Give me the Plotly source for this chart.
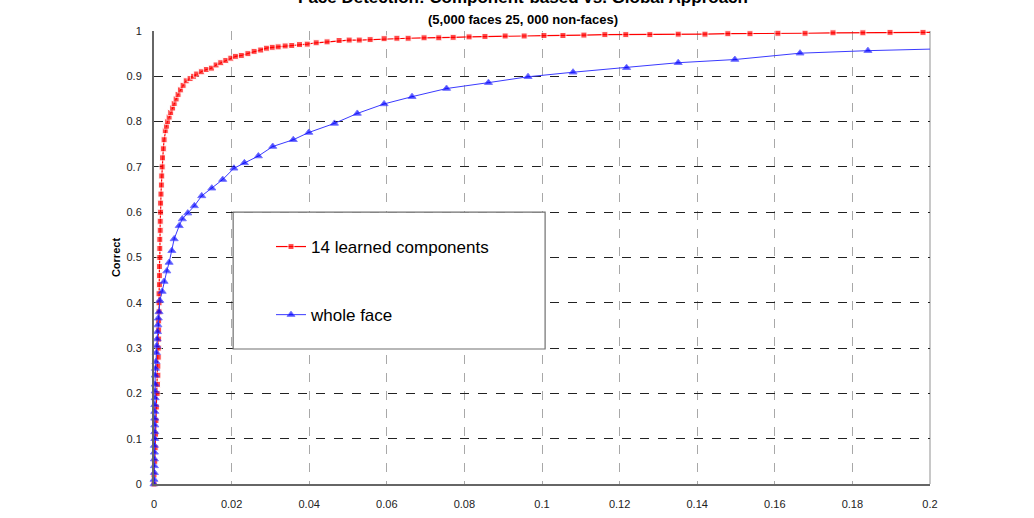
import plotly.graph_objects as go

red_x = [0, 0, 0.0002, 0.0003, 0.0004, 0.0005, 0.0006, 0.0008, 0.0009, 0.001, 0.001, 0.0011, 0.0011,
         0.0012, 0.0012, 0.0012, 0.0013, 0.0013, 0.0013, 0.0014, 0.0014, 0.0014, 0.0015, 0.0015, 0.0015,
         0.0016, 0.0016, 0.0017, 0.0017, 0.0018, 0.0019, 0.002, 0.0021, 0.0022, 0.0024, 0.0026, 0.0029,
         0.0032, 0.0035, 0.0039, 0.0043, 0.0048, 0.0052, 0.0057, 0.0062, 0.0068, 0.0075, 0.0083, 0.0093,
         0.0102, 0.011, 0.0122, 0.0135, 0.0148, 0.016, 0.0172, 0.0185, 0.0198, 0.021, 0.0225, 0.0242,
         0.0258, 0.0275, 0.029, 0.0305, 0.032, 0.0338, 0.0355, 0.0375, 0.0395, 0.0418, 0.0446, 0.0477,
         0.0503, 0.0529, 0.0557, 0.0593, 0.0626, 0.0655, 0.0696, 0.0734, 0.0771, 0.0812, 0.0853, 0.0905,
         0.0954, 0.1005, 0.1054, 0.1108, 0.1162, 0.1216, 0.1278, 0.1351, 0.142, 0.1479, 0.1536, 0.1608,
         0.1678, 0.175, 0.1827, 0.1897, 0.1982, 0.2]
red_y = [0, 0.02, 0.05, 0.08, 0.11, 0.14, 0.17, 0.2, 0.22, 0.24, 0.26, 0.28, 0.3,
         0.32, 0.34, 0.36, 0.38, 0.4, 0.42, 0.44, 0.46, 0.48, 0.5, 0.52, 0.54,
         0.56, 0.58, 0.6, 0.62, 0.64, 0.66, 0.68, 0.7, 0.72, 0.74, 0.76, 0.78,
         0.79, 0.8, 0.81, 0.82, 0.83, 0.84, 0.85, 0.86, 0.87, 0.88, 0.89, 0.895,
         0.9, 0.905, 0.91, 0.915, 0.918, 0.925, 0.93, 0.935, 0.94, 0.944, 0.946, 0.95,
         0.955, 0.958, 0.962, 0.964, 0.965, 0.967, 0.968, 0.97, 0.971, 0.974, 0.976, 0.979,
         0.98, 0.98, 0.981, 0.983, 0.984, 0.984, 0.985, 0.985, 0.986, 0.987, 0.988, 0.989,
         0.989, 0.99, 0.99, 0.991, 0.992, 0.992, 0.992, 0.993, 0.993, 0.994, 0.994, 0.995,
         0.995, 0.996, 0.996, 0.997, 0.997, 0.997]

blue_x = [0, 0, 0.0001, 0.0001, 0.0001, 0.0001, 0.0001, 0.0002, 0.0002, 0.0002, 0.0002, 0.0002,
          0.0002, 0.0003, 0.0003, 0.0003, 0.0003, 0.0004, 0.0005, 0.0006, 0.0007, 0.0008, 0.0009,
          0.001, 0.0011, 0.0013, 0.0015, 0.0021, 0.0026, 0.0033, 0.0039, 0.0046, 0.0052, 0.0065,
          0.0073, 0.0087, 0.0104, 0.0123, 0.0149, 0.0177, 0.0206, 0.0233, 0.0269, 0.0306, 0.0359,
          0.0399, 0.0465, 0.0524, 0.0593, 0.0665, 0.0754, 0.0862, 0.0964, 0.108, 0.1218, 0.1351,
          0.1497, 0.1665, 0.184, 0.2]
blue_y = [0, 0.01, 0.025, 0.04, 0.055, 0.07, 0.085, 0.1, 0.115, 0.13, 0.145, 0.16,
          0.175, 0.19, 0.205, 0.22, 0.24, 0.255, 0.27, 0.29, 0.305, 0.32, 0.336,
          0.351, 0.366, 0.38, 0.405, 0.425, 0.447, 0.47, 0.489, 0.515, 0.541, 0.57,
          0.585, 0.598, 0.614, 0.636, 0.653, 0.672, 0.697, 0.709, 0.724, 0.745, 0.76,
          0.776, 0.796, 0.818, 0.839, 0.855, 0.873, 0.886, 0.899, 0.909, 0.919, 0.93,
          0.937, 0.951, 0.9566, 0.96]

x_ticks = [0, 0.02, 0.04, 0.06, 0.08, 0.1, 0.12, 0.14, 0.16, 0.18, 0.2]
x_tick_labels = ["0", "0.02", "0.04", "0.06", "0.08", "0.1", "0.12", "0.14", "0.16", "0.18", "0.2"]
y_ticks = [0, 0.1, 0.2, 0.3, 0.4, 0.5, 0.6, 0.7, 0.8, 0.9, 1]
y_tick_labels = ["0", "0.1", "0.2", "0.3", "0.4", "0.5", "0.6", "0.7", "0.8", "0.9", "1"]

legend_box_x = [0.0204, 0.1008]
legend_box_y = [0.298, 0.6]

FONT = "Arial, Liberation Sans, sans-serif"

red_sizes = [6] * (len(red_x) - 1) + [0]
blue_sizes = [7] * (len(blue_x) - 1) + [0]

fig = go.Figure()
fig.add_trace(go.Scatter(
    x=red_x, y=red_y, mode="lines+markers", name="14 learned components",
    legendgroup="a",
    line=dict(color="#FF0000", width=1.2),
    marker=dict(symbol="square", size=red_sizes, color="#FF0000"),
    cliponaxis=False,
))
fig.add_trace(go.Scatter(
    x=blue_x, y=blue_y, mode="lines+markers", name="whole face",
    legendgroup="b",
    line=dict(color="#3a3aff", width=1),
    marker=dict(symbol="triangle-up", size=blue_sizes, color="#0000FF"),
    cliponaxis=False,
))

fig.add_shape(type="rect", xref="x", yref="y",
              x0=legend_box_x[0], x1=legend_box_x[1], y0=legend_box_y[0], y1=legend_box_y[1],
              fillcolor="white", line=dict(color="#707070", width=1.2), layer="above")

W, H = 1034, 518
ml, mr, mt, mb = 154, 104, 31, 34
ph = H - mt - mb
pw = W - ml - mr

def px_to_paper_x(px):
    return (px - ml) / pw

def px_to_paper_y(py):
    return (H - mb - py) / ph

fig.add_annotation(text="<b>Face Detection: Component-based vs. Global Approach</b>",
                   xref="paper", yref="paper", x=px_to_paper_x(523), y=px_to_paper_y(-3),
                   xanchor="center", yanchor="middle", showarrow=False,
                   font=dict(family=FONT, size=17, color="black"))
fig.add_annotation(text="<b>(5,000 faces 25, 000 non-faces)</b>",
                   xref="paper", yref="paper", x=px_to_paper_x(523), y=px_to_paper_y(19),
                   xanchor="center", yanchor="middle", showarrow=False,
                   font=dict(family=FONT, size=13, color="black"))

fig.update_layout(
    width=W, height=H,
    margin=dict(l=ml, r=mr, t=mt, b=mb, pad=0, autoexpand=False),
    paper_bgcolor="white", plot_bgcolor="white",
    font=dict(family=FONT, size=11, color="#222"),
    showlegend=True,
    legend=dict(
        x=px_to_paper_x(271), y=px_to_paper_y(229), xanchor="left", yanchor="top",
        bgcolor="rgba(0,0,0,0)", borderwidth=0,
        font=dict(family=FONT, size=17, color="black"),
        traceorder="grouped", tracegroupgap=43,
    ),
    xaxis=dict(
        range=[0, 0.2], tickvals=x_ticks, ticktext=x_tick_labels, automargin=False,
        showgrid=True, gridcolor="#a8a8a8", griddash="dash", gridwidth=1,
        showline=True, linecolor="#666", linewidth=2, mirror=False,
        zeroline=False, ticks="outside", ticklen=9, tickcolor="rgba(0,0,0,0)",
        tickfont=dict(family=FONT, size=11, color="#222"),
    ),
    yaxis=dict(
        range=[0, 1], tickvals=y_ticks, ticktext=y_tick_labels, automargin=False,
        showgrid=True, gridcolor="#222", griddash="dash", gridwidth=1,
        showline=True, linecolor="#666", linewidth=2,
        zeroline=False, ticks="outside", ticklen=8, tickcolor="rgba(0,0,0,0)",
        tickfont=dict(family=FONT, size=11, color="#222"),
        title=dict(text="<b>Correct</b>", font=dict(family=FONT, size=11, color="black"), standoff=4),
    ),
)

fig.add_shape(type="line", xref="paper", yref="paper", x0=1, x1=1, y0=0, y1=1,
              line=dict(color="#c8c8c8", width=2), layer="below")

fig.write_html("out.html")
